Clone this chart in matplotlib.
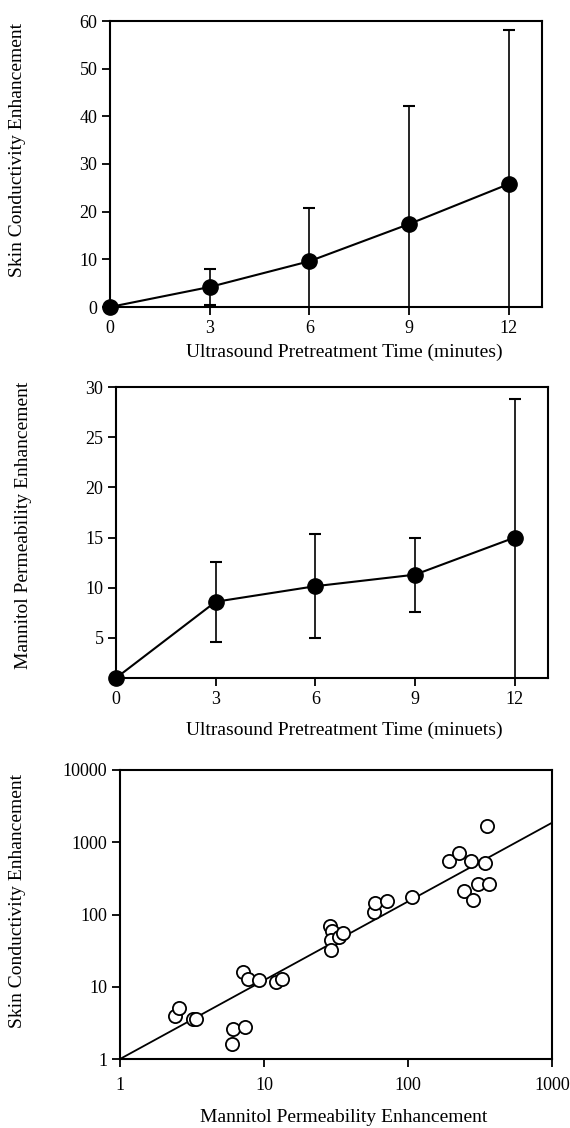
import matplotlib
matplotlib.use("Agg")
import matplotlib.pyplot as plt

plt.rcParams['font.family'] = ['Liberation Serif', 'DejaVu Serif']

# --- Panel 1: skin conductivity vs. pretreatment time ---
time_min = [0, 3, 6, 9, 12]
skin_cond = [0, 4.2, 9.6, 17.4, 25.8]
skin_cond_err = [0, 3.7, 11.1, 24.8, 32.4]

# --- Panel 2: mannitol permeability vs. pretreatment time ---
mannitol_perm = [1.0, 8.6, 10.15, 11.3, 15.0]
mannitol_err_low = [0, 4.0, 5.2, 3.7, 14.5]
mannitol_err_high = [0, 4.0, 5.2, 3.7, 13.8]

# --- Panel 3: correlation of the two enhancements (log-log) ---
mannitol_x = [2.42, 2.55, 3.19, 3.37, 6.04, 6.14, 7.40, 7.13, 7.72, 9.30,
              12.2, 13.3, 28.6, 29.8, 29.3, 29.0, 33.1, 35.3, 57.9, 58.6,
              72.0, 107, 192, 225, 275, 344, 353, 244, 283, 306, 363]
skin_y = [3.94, 5.07, 3.55, 3.55, 1.61, 2.64, 2.75, 16.2, 13.0, 12.3,
          11.8, 12.6, 69.5, 59.9, 44.6, 32.5, 48.6, 55.2, 109, 143,
          155, 172, 550, 708, 550, 521, 1700, 212, 158, 262, 262]
fit_slope = 1.09
fit_x = [1, 1000]

W, H = 570, 1128
fig = plt.figure(figsize=(W / 100, H / 100), dpi=100)

TICK_FS = 13
LABEL_FS = 14


def px_axes(left, top, right, bottom):
    return fig.add_axes([left / W, 1 - bottom / H, (right - left) / W, (bottom - top) / H])


def style(ax, xpad=3.5):
    for s in ax.spines.values():
        s.set_linewidth(1.5)
        s.set_color('black')
    ax.tick_params(direction='out', length=6, width=1.3, labelsize=TICK_FS,
                   top=False, right=False, pad=3)
    ax.tick_params(axis='x', pad=xpad)
    ax.tick_params(which='minor', bottom=False, left=False, top=False, right=False)


# Panel 1
ax1 = px_axes(110, 21, 542, 307)
ax1.errorbar(time_min, skin_cond, yerr=skin_cond_err, fmt='none',
             ecolor='black', elinewidth=1.2, capsize=4.5, capthick=1.5, zorder=2)
ax1.plot(time_min, skin_cond, '-o', color='black', lw=1.5, ms=11,
         mfc='black', mec='black', clip_on=False, zorder=3)
ax1.set_xlim(0, 13)
ax1.set_ylim(0, 60)
ax1.set_xticks([0, 3, 6, 9, 12])
ax1.set_yticks(range(0, 61, 10))
style(ax1)
fig.text(344 / W, 1 - 352 / H, 'Ultrasound Pretreatment Time (minutes)',
         ha='center', va='center', fontsize=LABEL_FS)
fig.text(18 / W, 1 - 150 / H, 'Skin Conductivity Enhancement',
         ha='center', va='center', rotation=90, fontsize=LABEL_FS)

# Panel 2
ax2 = px_axes(116, 387, 548, 678)
ax2.errorbar(time_min, mannitol_perm, yerr=[mannitol_err_low, mannitol_err_high],
             fmt='none', ecolor='black', elinewidth=1.2, capsize=4.5,
             capthick=1.5, zorder=2)
ax2.plot(time_min, mannitol_perm, '-o', color='black', lw=1.5, ms=11,
         mfc='black', mec='black', clip_on=False, zorder=3)
ax2.set_xlim(0, 13)
ax2.set_ylim(1, 30)
ax2.set_xticks([0, 3, 6, 9, 12])
ax2.set_yticks(range(5, 31, 5))
style(ax2)
fig.text(344 / W, 1 - 730 / H, 'Ultrasound Pretreatment Time (minuets)',
         ha='center', va='center', fontsize=LABEL_FS)
fig.text(24 / W, 1 - 525 / H, 'Mannitol Permeability Enhancement',
         ha='center', va='center', rotation=90, fontsize=LABEL_FS)

# Panel 3
ax3 = px_axes(120, 770, 552, 1059)
ax3.set_xscale('log')
ax3.set_yscale('log')
ax3.plot(fit_x, [x ** fit_slope for x in fit_x], color='black', lw=1.3, zorder=2)
ax3.plot(mannitol_x, skin_y, 'o', ms=9.5, mfc='white', mec='black', mew=1.3,
         zorder=3)
ax3.set_xlim(1, 1000)
ax3.set_ylim(1, 10000)
xt = [1, 10, 100, 1000]
yt = [1, 10, 100, 1000, 10000]
ax3.set_xticks(xt)
ax3.set_xticklabels([str(v) for v in xt])
ax3.set_yticks(yt)
ax3.set_yticklabels([str(v) for v in yt])
ax3.minorticks_off()
style(ax3, xpad=7)
fig.text(344 / W, 1 - 1118 / H, 'Mannitol Permeability Enhancement',
         ha='center', va='center', fontsize=LABEL_FS)
fig.text(18 / W, 1 - 901 / H, 'Skin Conductivity Enhancement',
         ha='center', va='center', rotation=90, fontsize=LABEL_FS)

fig.savefig('out.png', dpi=100, facecolor='white')
